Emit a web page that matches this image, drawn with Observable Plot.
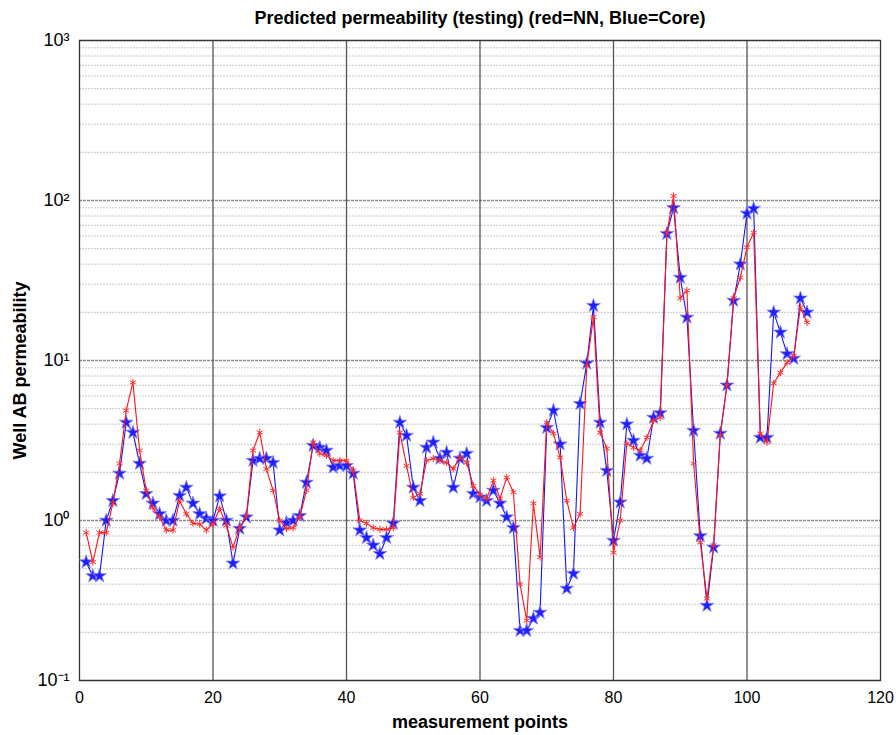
<!DOCTYPE html>
<html>
<head>
<meta charset="utf-8">
<script src="https://cdn.jsdelivr.net/npm/d3@7"></script>
<script src="https://cdn.jsdelivr.net/npm/@observablehq/plot@0.6"></script>
<style>
  html, body { margin: 0; padding: 0; background: #fff; }
  #chart svg { display: block; }
</style>
</head>
<body>
<div id="chart"></div>
<script>
const titleText = "Predicted permeability (testing) (red=NN, Blue=Core)";
const xLabel = "measurement points";
const yLabel = "Well AB permeability";

// measurement point indices 1..109
const points = d3.range(1, 110);

// Blue = Core permeability
const core = [
  0.55, 0.45, 0.45, 1.0, 1.33, 1.97, 4.1, 3.55, 2.27, 1.47,
  1.28, 1.1, 1.0, 1.0, 1.43, 1.61, 1.28, 1.1, 1.03, 1.0,
  1.42, 1.0, 0.54, 0.89, 1.05, 2.37, 2.44, 2.44, 2.3, 0.87,
  0.97, 1.0, 1.07, 1.73, 2.94, 2.86, 2.74, 2.15, 2.2, 2.2,
  1.97, 0.87, 0.78, 0.70, 0.62, 0.78, 0.96, 4.1, 3.4, 1.61,
  1.33, 2.86, 3.08, 2.44, 2.66, 1.61, 2.44, 2.62, 1.47, 1.4,
  1.33, 1.54, 1.28, 1.05, 0.9, 0.205, 0.205, 0.244, 0.266, 3.8,
  4.87, 3.0, 0.376, 0.466, 5.37, 9.6, 22, 4.1, 2.05, 0.75,
  1.3, 4.0, 3.16, 2.55, 2.44, 4.4, 4.7, 62, 90, 33,
  18.6, 3.65, 0.80, 0.294, 0.68, 3.5, 7.0, 23.7, 40, 83,
  89, 3.3, 3.3, 20, 15, 11, 10.3, 24.5, 20
];

// Red = NN prediction
const nn = [
  0.84, 0.55, 0.84, 0.84, 1.28, 2.27, 4.87, 7.3, 2.74, 1.54,
  1.2, 1.05, 0.87, 0.87, 1.33, 1.1, 0.96, 0.95, 0.87, 0.95,
  1.19, 0.93, 0.68, 0.9, 1.07, 2.74, 3.55, 2.1, 1.54, 1.0,
  0.89, 0.9, 1.05, 1.54, 3.08, 2.62, 2.55, 2.37, 2.37, 2.37,
  2.05, 1.0, 0.96, 0.9, 0.88, 0.88, 0.9, 3.55, 2.2, 1.39,
  1.47, 2.37, 2.44, 2.37, 2.3, 2.1, 2.48, 2.3, 1.65, 1.45,
  1.37, 1.78, 1.37, 1.86, 1.5, 0.40, 0.237, 1.28, 0.59, 4.1,
  3.5, 2.48, 1.33, 0.9, 1.1, 9.3, 18.6, 3.55, 2.82, 0.63,
  1.0, 3.03, 2.86, 2.74, 3.3, 4.2, 4.4, 63, 107, 24.5,
  27.4, 2.27, 0.73, 0.325, 0.70, 3.4, 7.0, 24.5, 33, 51,
  63, 3.5, 3.08, 7.2, 8.4, 9.7, 10.7, 21.5, 17.3
];

const xTicks = [0, 20, 40, 60, 80, 100, 120];
const xGrid = [20, 40, 60, 80, 100];
const decades = [0.1, 1, 10, 100, 1000];
const decadeLabels = ["10\u207B\u00B9", "10\u2070", "10\u00B9", "10\u00B2", "10\u00B3"];
const minorMult = [2, 3, 4, 5, 6, 7, 8, 9];

const coreData = points.map((p, i) => ({x: p, y: core[i]}));
const nnData = points.map((p, i) => ({x: p, y: nn[i]}));
const minorTicks = decades.slice(0, -1).flatMap(d => minorMult.map(m => d * m));

const font = "'Liberation Sans', Arial, Helvetica, sans-serif";

const chart = Plot.plot({
  width: 896,
  height: 735,
  marginLeft: 79,
  marginRight: 16,
  marginTop: 40,
  marginBottom: 55,
  style: {fontFamily: font, fontSize: "16px", color: "#000", background: "#fff"},
  x: {domain: [0, 120], label: null},
  y: {type: "log", domain: [0.1, 1000], label: null},
  marks: [
    Plot.ruleY(minorTicks, {stroke: "#c8c8c8", strokeWidth: 1, strokeDasharray: "2,1"}),
    Plot.ruleY(decades, {stroke: "#8a8a8a", strokeWidth: 1.3, strokeDasharray: "3,1"}),
    Plot.ruleX(xGrid, {stroke: "#555", strokeWidth: 1.3}),
    Plot.frame({stroke: "#333", strokeWidth: 1.3}),
    Plot.axisX({ticks: xTicks, tickSize: 0, tickPadding: 11, fontSize: 16, label: null}),
    Plot.axisY({ticks: decades, tickFormat: d => decadeLabels[decades.indexOf(d)],
      tickSize: 0, tickPadding: 10, fontSize: 18, label: null}),
    Plot.line(coreData, {x: "x", y: "y", stroke: "#1414ff", strokeWidth: 1.1}),
    Plot.dot(coreData, {x: "x", y: "y", symbol: "star", r: 4.3, fill: "#2020ff", stroke: "#8080ff", strokeWidth: 0.8}),
    Plot.line(nnData, {x: "x", y: "y", stroke: "#ff1414", strokeWidth: 1.1}),
    Plot.dot(nnData, {x: "x", y: "y", symbol: "asterisk", r: 3.3, stroke: "#ff3030", strokeWidth: 1}),
    Plot.text([titleText], {frameAnchor: "top", lineAnchor: "middle", dy: -22, fontWeight: "bold", fontSize: 18, fill: "#000"}),
    Plot.text([xLabel], {frameAnchor: "bottom", lineAnchor: "middle", dy: 42, fontWeight: "bold", fontSize: 18, fill: "#000"}),
    Plot.text([yLabel], {frameAnchor: "left", textAnchor: "middle", lineAnchor: "middle", dx: -59, dy: 10, rotate: -90, fontWeight: "bold", fontSize: 18, fill: "#000"})
  ]
});

document.getElementById("chart").appendChild(chart);
</script>
</body>
</html>
